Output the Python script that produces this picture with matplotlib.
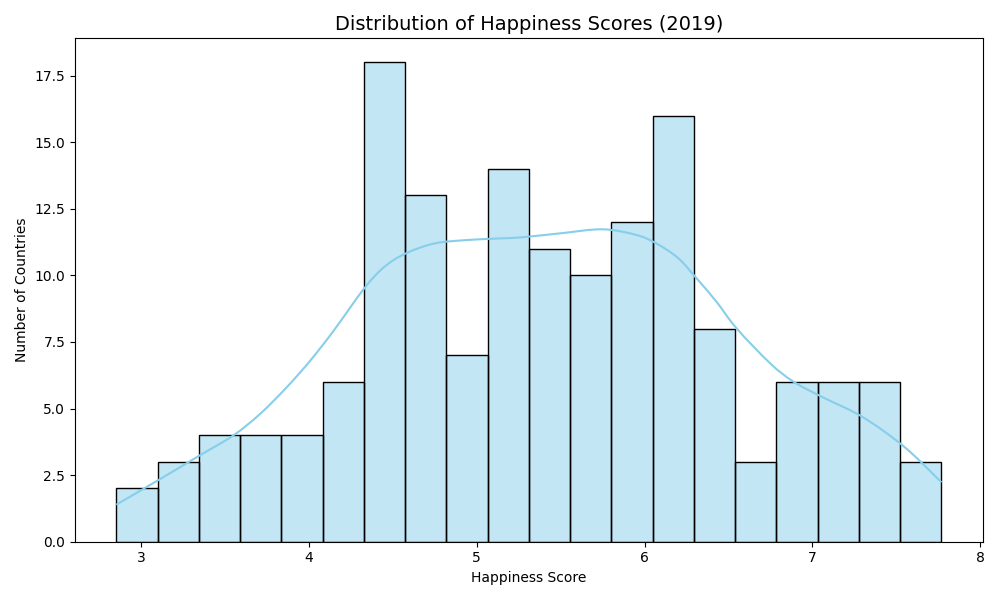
import numpy as np
import matplotlib
matplotlib.use("Agg")
import matplotlib.pyplot as plt
from matplotlib.path import Path
from matplotlib.patches import PathPatch

# Data
score_min = 2.853
score_max = 7.769
counts = [2, 3, 4, 4, 4, 6, 18, 13, 7, 14, 11, 10, 12, 16, 8, 3, 6, 6, 6, 3]

kde_x = [2.853, 3.10, 3.35, 3.55, 3.71, 3.87, 4.01, 4.15, 4.33, 4.45, 4.58,
         4.75, 4.95, 5.15, 5.27, 5.50, 5.75, 5.95, 6.07, 6.20, 6.31, 6.43,
         6.55, 6.75, 6.89, 7.06, 7.30, 7.55, 7.769]
kde_y = [1.39, 2.30, 3.24, 3.99, 4.80, 5.81, 6.81, 7.94, 9.51, 10.32, 10.83,
         11.20, 11.33, 11.39, 11.43, 11.58, 11.73, 11.52, 11.20, 10.65, 9.89, 9.00,
         8.00, 6.69, 6.00, 5.43, 4.68, 3.55, 2.23]

edges = np.linspace(score_min, score_max, len(counts) + 1)

fig, ax = plt.subplots(figsize=(10, 6), dpi=100)
ax.bar(edges[:-1], counts, width=np.diff(edges), align="edge",
       color="skyblue", alpha=0.5, edgecolor="none")
ax.bar(edges[:-1], counts, width=np.diff(edges), align="edge",
       fill=False, edgecolor="black", linewidth=1)

# Smooth rendering of the read KDE points (Catmull-Rom as cubic Bezier path)
pts = np.column_stack([kde_x, kde_y])
verts = [pts[0]]
codes = [Path.MOVETO]
for i in range(len(pts) - 1):
    p0 = pts[i - 1] if i > 0 else pts[i]
    p1 = pts[i]
    p2 = pts[i + 1]
    p3 = pts[i + 2] if i + 2 < len(pts) else pts[i + 1]
    c1 = p1 + (p2 - p0) / 6.0
    c2 = p2 - (p3 - p1) / 6.0
    verts += [c1, c2, p2]
    codes += [Path.CURVE4] * 3
ax.add_patch(PathPatch(Path(verts, codes), facecolor="none",
                       edgecolor="skyblue", linewidth=1.5))

ax.set_title("Distribution of Happiness Scores (2019)", fontsize=14)
ax.set_xlabel("Happiness Score")
ax.set_ylabel("Number of Countries")
ax.set_xlim(score_min - 0.05 * (score_max - score_min),
            score_max + 0.05 * (score_max - score_min))
ax.set_ylim(0, 18 * 1.05)
fig.tight_layout()
fig.savefig("out.png")
